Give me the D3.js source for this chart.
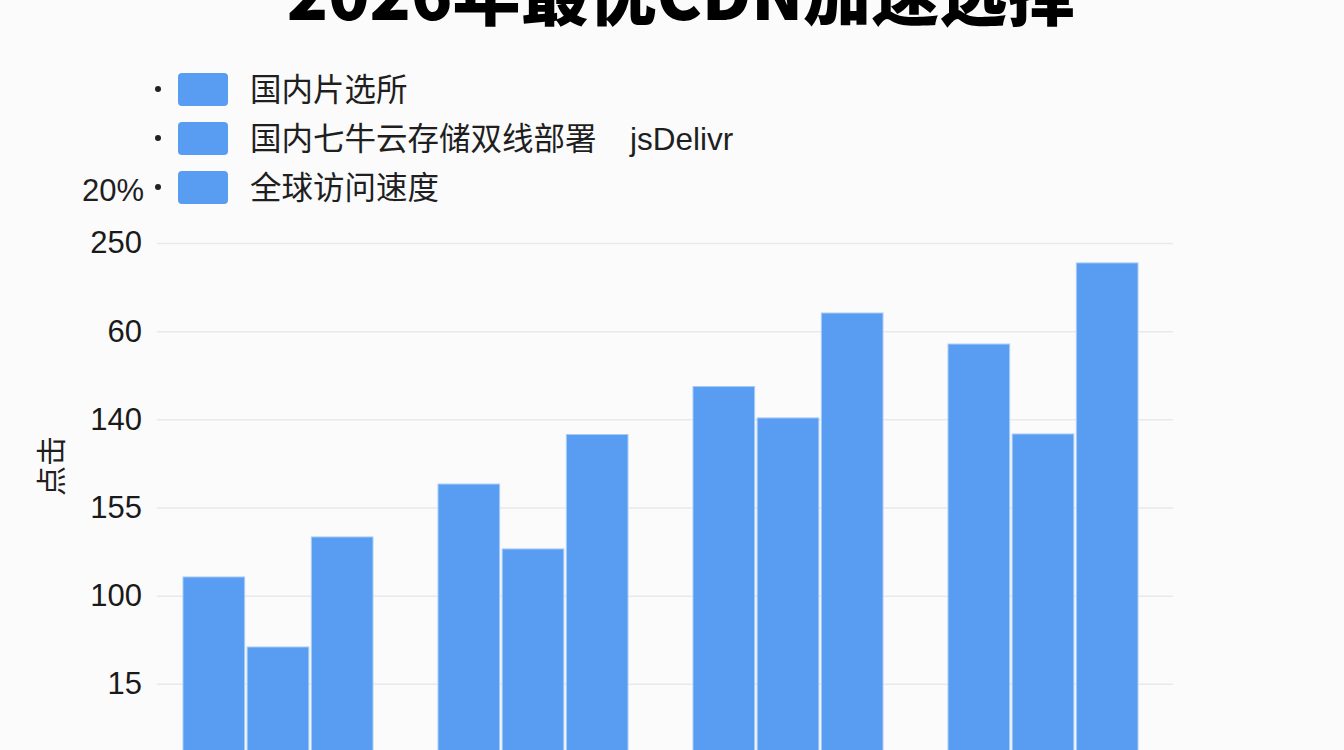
<!DOCTYPE html>
<html>
<head>
  <meta charset="utf-8">
  <title>2026年最优CDN加速选择</title>
  <script src="https://d3js.org/d3.v7.min.js"></script>
  <style>
    html, body { margin: 0; padding: 0; background: #fbfbfc; overflow: hidden; }
    svg { display: block; }
    text { font-family: "Liberation Sans", "Noto Sans CJK SC", sans-serif; fill: #1f1f1f; }
    .title { font-family: "Noto Sans CJK SC", sans-serif; font-weight: 900; fill: #000; }
    .axis path { display: none; }
    .axis line { stroke: #e9e9ec; stroke-width: 1.5; }
    .axis text { font-size: 31px; fill: #1a1a1a; }
  </style>
</head>
<body>
<svg id="chart" width="1344" height="750"></svg>
<script>
// data
var categories = ["Q1", "Q2", "Q3", "Q4"];
var seriesNames = ["国内片选所", "国内七牛云存储双线部署", "全球访问速度"];
var seriesA = [110.6, 163.3, 218.6, 242.7];
var seriesB = [70.9, 126.5, 200.8, 191.7];
var seriesC = [133.3, 191.4, 260.3, 288.7];
var tickValues = [50, 100, 150, 200, 250, 300];
var tickLabels = ["15", "100", "155", "140", "60", "250"];

var barColor = "#589df1";

var svg = d3.select("#chart");

// plot area
var plotLeft = 157, plotRight = 1173, plotTop = 243, plotBottom = 772;

var x0 = d3.scaleBand()
  .domain(categories)
  .range([183, 1138])
  .paddingInner(0.255)
  .paddingOuter(0);

var x1 = d3.scaleBand()
  .domain(seriesNames)
  .range([0, x0.bandwidth()])
  .paddingInner(0.04);

var y = d3.scaleLinear()
  .domain([0, 300])
  .range([plotBottom, plotTop]);

// title (cut off at the top like the source)
svg.append("text")
  .attr("class", "title")
  .attr("x", 681)
  .attr("y", 20)
  .attr("text-anchor", "middle")
  .attr("font-size", 68)
  .text("2026年最优CDN加速选择");

// legend
var legend = svg.append("g");
var rows = legend.selectAll("g.row")
  .data(seriesNames)
  .enter()
  .append("g")
  .attr("class", "row")
  .attr("transform", function(d, i) { return "translate(0," + (73 + i * 49) + ")"; });

rows.append("circle")
  .attr("cx", 158)
  .attr("cy", 16)
  .attr("r", 3)
  .attr("fill", "#222");

rows.append("rect")
  .attr("x", 178)
  .attr("width", 50)
  .attr("height", 33)
  .attr("rx", 4)
  .attr("fill", barColor);

rows.append("text")
  .attr("x", 250)
  .attr("y", 28)
  .attr("font-size", 31.5)
  .text(function(d) { return d; });

legend.append("text")
  .attr("x", 630)
  .attr("y", 73 + 49 + 28)
  .attr("font-size", 31.5)
  .text("jsDelivr");

legend.append("text")
  .attr("x", 144)
  .attr("y", 73 + 98 + 30)
  .attr("text-anchor", "end")
  .attr("font-size", 31)
  .text("20%");

// y axis with grid
svg.append("g")
  .attr("class", "axis")
  .attr("transform", "translate(" + plotLeft + ",0)")
  .call(d3.axisLeft(y)
    .tickValues(tickValues)
    .tickSize(-(plotRight - plotLeft))
    .tickPadding(15)
    .tickFormat(function(d, i) { return tickLabels[i]; }));

// y axis title
svg.append("text")
  .attr("transform", "translate(62,466) rotate(-90)")
  .attr("text-anchor", "middle")
  .attr("font-size", 30)
  .text("点击");

// bars
var groupData = categories.map(function(c, i) {
  return { cat: c, vals: [seriesA[i], seriesB[i], seriesC[i]] };
});

var groups = svg.selectAll(".grp")
  .data(groupData)
  .enter()
  .append("g")
  .attr("class", "grp")
  .attr("transform", function(d) { return "translate(" + x0(d.cat) + ",0)"; });

groups.selectAll("rect")
  .data(function(d) { return d.vals.map(function(v, i) { return { key: seriesNames[i], value: v }; }); })
  .enter()
  .append("rect")
  .attr("x", function(d) { return x1(d.key); })
  .attr("y", function(d) { return y(d.value); })
  .attr("width", x1.bandwidth())
  .attr("height", function(d) { return plotBottom - y(d.value); })
  .attr("fill", barColor)
  .attr("stroke", "#a8cbf6")
  .attr("stroke-width", 1);
</script>
</body>
</html>
